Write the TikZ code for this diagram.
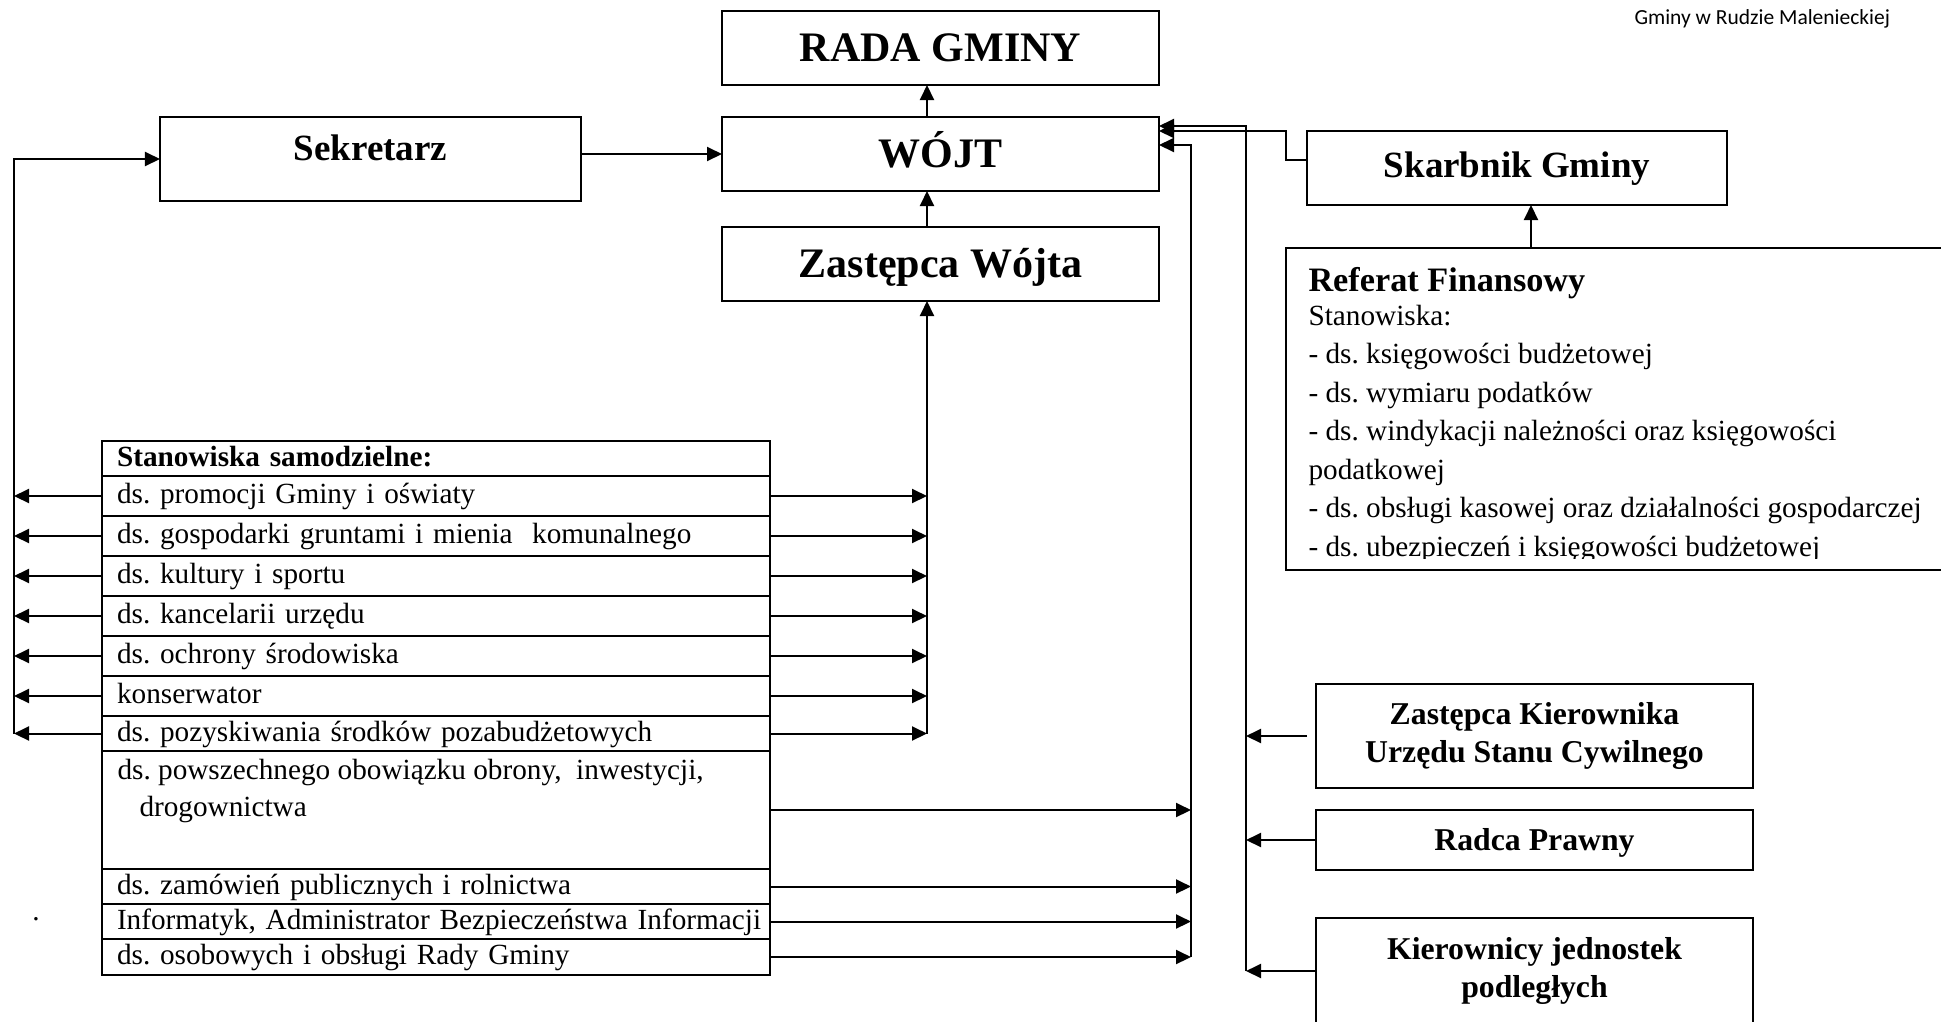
\documentclass[tikz,border=0pt]{standalone}
\usepackage{fontspec}
\setmainfont{Liberation Serif}
\newfontfamily\calibrifont{Carlito}
\usetikzlibrary{arrows.meta,calc,positioning}
\frenchspacing

\newcommand{\bodysize}{\fontsize{11.7}{15.4}\selectfont}
\newcommand{\bigsize}{\fontsize{16.8}{20}\selectfont\bfseries}
\newcommand{\midsize}{\fontsize{14.8}{18}\selectfont\bfseries}
\newcommand{\smallhead}{\fontsize{12.7}{15.1}\selectfont\bfseries}

\begin{document}
\begin{tikzpicture}[x=0.4pt, y=-0.4pt,
    block/.style={draw, rectangle, line width=0.7pt, outer sep=0pt, inner sep=0pt, align=center},
    bigblock/.style={block, minimum width=174.8pt, minimum height=29.6pt, font=\bigsize, text height=11.1pt, text depth=0pt},
    sideblock/.style={block, minimum width=174.8pt, font=\smallhead},
    row/.style={draw, rectangle, line width=0.7pt, outer sep=0pt, node distance=0pt, text width=261.2pt, inner xsep=3pt, inner ysep=0pt, align=left, text height=9pt, text depth=3pt, minimum height=16pt, font=\bodysize, execute at begin node={\hspace*{3pt}}},
    arr/.style={line width=0.8pt, -{Triangle[length=6pt,width=5.6pt]}}]

\useasboundingbox (0,0) rectangle (1941,1021);
\clip (0,0) rectangle (1941,1021);

\coordinate (bus) at (927,0);
\coordinate (lbus) at (14,0);
\coordinate (bus2) at (1191,0);
\coordinate (bus3) at (1246,0);
\coordinate (tick) at (1531,0);

\node [font=\calibrifont\fontsize{8.6}{10}\selectfont, inner sep=0pt, anchor=base west] (naglowek) at (1634,24) {Gminy w Rudzie Malenieckiej};

% gora schematu
\node [bigblock] (rada) at (940.5,48) {RADA GMINY};
\node [bigblock] (wojt) at (940.5,154) {WÓJT};
\node [bigblock] (zastepca) at (940.5,264) {Zastępca Wójta};
\node [block, minimum width=168.4pt, minimum height=33.6pt, font=\midsize, text height=9.8pt, text depth=8.4pt] (sekretarz) at (370.5,159) {Sekretarz};
\node [block, minimum width=168pt, minimum height=29.6pt, font=\midsize, text height=9.8pt, text depth=2.4pt] (skarbnik) at (1517,168) {Skarbnik Gminy};

% referat
\node [block, minimum width=285.6pt, minimum height=128.8pt] (referat) at (1643,409) {};
\begin{scope}
  \clip (1286,248) rectangle (1941,558);
  \node [font=\bodysize, align=left, inner sep=0pt, anchor=north west] (referattekst) at (1308,266.4) {{\fontsize{13.7}{15.4}\selectfont\bfseries Referat Finansowy}\\[-1.7pt]
    Stanowiska:\\
    - ds. księgowości budżetowej\\
    - ds. wymiaru podatków\\
    - ds. windykacji należności oraz księgowości\\
    podatkowej\\
    - ds. obsługi kasowej oraz działalności gospodarczej\\
    - ds. ubezpieczeń i księgowości budżetowej};
\end{scope}

% stanowiska samodzielne
\node [row, minimum height=14pt, anchor=north west] (h) at (102,441) {\textbf{Stanowiska samodzielne:}};
\node [row, below=of h] (r1) {ds. promocji Gminy i oświaty};
\node [row, below=of r1] (r2) {ds. gospodarki gruntami i mienia~ komunalnego};
\node [row, below=of r2] (r3) {ds. kultury i sportu};
\node [row, below=of r3] (r4) {ds. kancelarii urzędu};
\node [row, below=of r4] (r5) {ds. ochrony środowiska};
\node [row, below=of r5] (r6) {konserwator};
\node [row, below=of r6, minimum height=14pt] (r7) {ds. pozyskiwania środków pozabudżetowych};
\node [row, below=of r7, minimum height=47.2pt] (r8) {};
\node [font=\bodysize, align=left, inner sep=0pt, anchor=north west] (r8t) at ($(r8.north west)+(15,8)$) {ds. powszechnego obowiązku obrony,~ inwestycji,\\[-0.7pt]\hspace*{8.8pt}drogownictwa};
\node [row, below=of r8, minimum height=14pt] (r9) {ds. zamówień publicznych i rolnictwa};
\node [row, below=of r9, minimum height=14pt] (r10) {Informatyk, Administrator Bezpieczeństwa Informacji};
\node [row, below=of r10, minimum height=14.4pt] (r11) {ds. osobowych i obsługi Rady Gminy};

\node [font=\bodysize, inner sep=0pt, anchor=base] (kropka) at (36,920) {.};

% prawa strona
\node [sideblock, minimum height=41.6pt] (zkier) at (1534.5,736) {Zastępca Kierownika\\Urzędu Stanu Cywilnego};
\node [sideblock, minimum height=24pt, text height=8.4pt, text depth=0pt] (radca) at (1534.5,840) {Radca Prawny};
\node [sideblock, minimum height=42.4pt] (kier) at (1534.5,971) {Kierownicy jednostek\\podległych};

% polaczenia
\draw[arr] (wojt.north -| bus) -- (rada.south -| bus);
\draw[arr] (zastepca.north -| bus) -- (wojt.south -| bus);
\draw[arr] (sekretarz.east |- wojt) -- (wojt.west);
\draw[arr] (r7.west -| lbus) |- (sekretarz.west);
\foreach \i in {1,...,7} {
  \draw[arr] (r\i.west) -- (r\i.west -| lbus);
  \draw[arr] (r\i.east) -- (r\i.east -| bus);
}
\draw[arr] (r7.east -| bus) -- (zastepca.south -| bus);
\foreach \i in {8,...,11}
  \draw[arr] (r\i.east) -- (r\i.east -| bus2);
\draw[arr] (r11.east -| bus2) |- ($(wojt.east)+(0,-9)$);
\draw[arr, shorten <=3.6pt] (zkier.west) -- (zkier.west -| bus3);
\foreach \n in {radca,kier}
  \draw[arr] (\n.west) -- (\n.west -| bus3);
\draw[arr] (kier.west -| bus3) |- ($(wojt.east)+(0,-28)$);
\draw[arr] ($(skarbnik.west)+(0,-8)$) -- ++(-21,0) |- ($(wojt.east)+(0,-23)$);
\draw[arr] (referat.north -| tick) -- (skarbnik.south -| tick);

\end{tikzpicture}
\end{document}
